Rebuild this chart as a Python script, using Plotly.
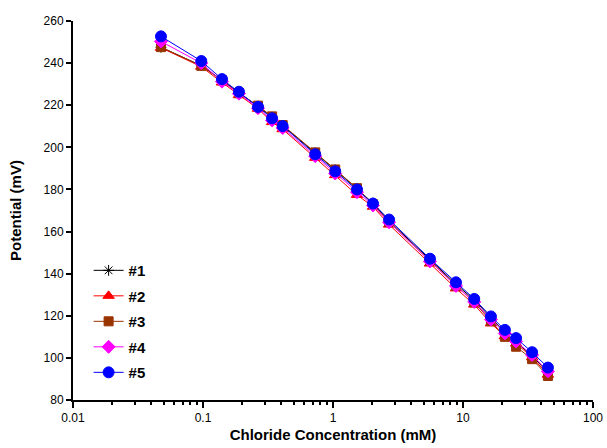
import plotly.graph_objects as go

conc = [0.0475, 0.097, 0.14, 0.189, 0.265, 0.34, 0.41, 0.73, 1.04, 1.53, 2.03, 2.7,
        5.57, 8.83, 12.2, 16.4, 21.0, 25.6, 34.0, 45.0]

s1 = [247.5, 238.8, 232.0, 226.0, 219.6, 214.3, 210.3, 197.4, 189.3, 180.3, 173.5, 165.0,
      146.8, 135.0, 127.5, 119.0, 112.0, 107.5, 101.0, 93.0]
s2 = [247.3, 238.3, 230.8, 224.8, 218.3, 212.0, 208.6, 195.0, 186.8, 177.4, 171.8, 163.3,
      144.8, 133.0, 125.3, 116.4, 110.3, 106.8, 100.3, 92.0]
s3 = [247.6, 238.7, 231.8, 225.7, 219.8, 214.7, 210.6, 197.6, 189.5, 180.6, 173.0, 164.5,
      146.0, 134.2, 126.4, 117.4, 110.0, 105.3, 99.4, 91.4]
s4 = [250.3, 240.0, 231.2, 225.5, 218.6, 212.8, 209.2, 195.8, 187.6, 178.7, 172.4, 164.4,
      145.8, 134.2, 126.6, 118.2, 111.6, 107.8, 101.4, 93.6]
s5 = [252.7, 241.0, 232.4, 226.4, 219.2, 213.8, 210.1, 196.7, 188.6, 180.0, 173.3, 165.7,
      147.1, 135.9, 128.0, 119.7, 113.3, 109.4, 102.7, 95.4]

names = ["#1", "#2", "#3", "#4", "#5"]
xticks = [0.01, 0.1, 1, 10, 100]
xticklabels = ["0.01", "0.1", "1", "10", "100"]

series = [s1, s2, s3, s4, s5]
colors = ["#000000", "#FF0000", "#993300", "#FF00FF", "#0000FF"]
symbols = ["asterisk-open", "triangle-up", "square", "diamond", "circle"]
sizes = [9, 10, 9, 10, 11]

FONT = "Arial, Liberation Sans, sans-serif"

fig = go.Figure()
for i, (nm, ys) in enumerate(zip(names, series)):
    fig.add_trace(go.Scatter(
        x=conc, y=ys, name=nm, mode="lines+markers",
        legendgroup=nm,
        line=dict(color=colors[i], width=1),
        marker=dict(symbol=symbols[i], size=sizes[i], color=colors[i],
                    line=dict(color=colors[i], width=1)),
    ))

fig.update_layout(
    width=607, height=448,
    margin=dict(l=73, r=14, t=21, b=48),
    paper_bgcolor="white", plot_bgcolor="white",
    font=dict(family=FONT, size=12, color="black"),
    showlegend=True,
    legend=dict(x=0.03, y=0.385, xanchor="left", yanchor="top",
                bgcolor="rgba(0,0,0,0)", tracegroupgap=3,
                font=dict(family=FONT, size=15, color="black", weight="bold"),
                itemwidth=30),
    xaxis=dict(type="log", range=[-2, 2], automargin=False,
               tickvals=xticks, ticktext=xticklabels,
               ticks="outside", ticklen=6, tickwidth=2, tickcolor="black",
               showline=True, linecolor="black", linewidth=2,
               showgrid=False, zeroline=False,
               minor=dict(ticks="outside", ticklen=3, tickwidth=2, tickcolor="black",
                          dtick="D1", showgrid=False),
               title=dict(text="<b>Chloride Concentration (mM)</b>",
                          font=dict(family=FONT, size=15), standoff=5),
               tickfont=dict(family=FONT, size=12)),
    yaxis=dict(range=[80, 260], dtick=20, automargin=False,
               ticks="outside", ticklen=5, tickwidth=2, tickcolor="black",
               showline=True, linecolor="black", linewidth=2,
               showgrid=False, zeroline=False,
               title=dict(text="<b>Potential (mV)</b>",
                          font=dict(family=FONT, size=15), standoff=18),
               tickfont=dict(family=FONT, size=12)),
)

fig.write_html("out.html",
               config={"displayModeBar": False},
               post_script="document.body.style.margin='0';document.body.style.overflow='hidden';")
